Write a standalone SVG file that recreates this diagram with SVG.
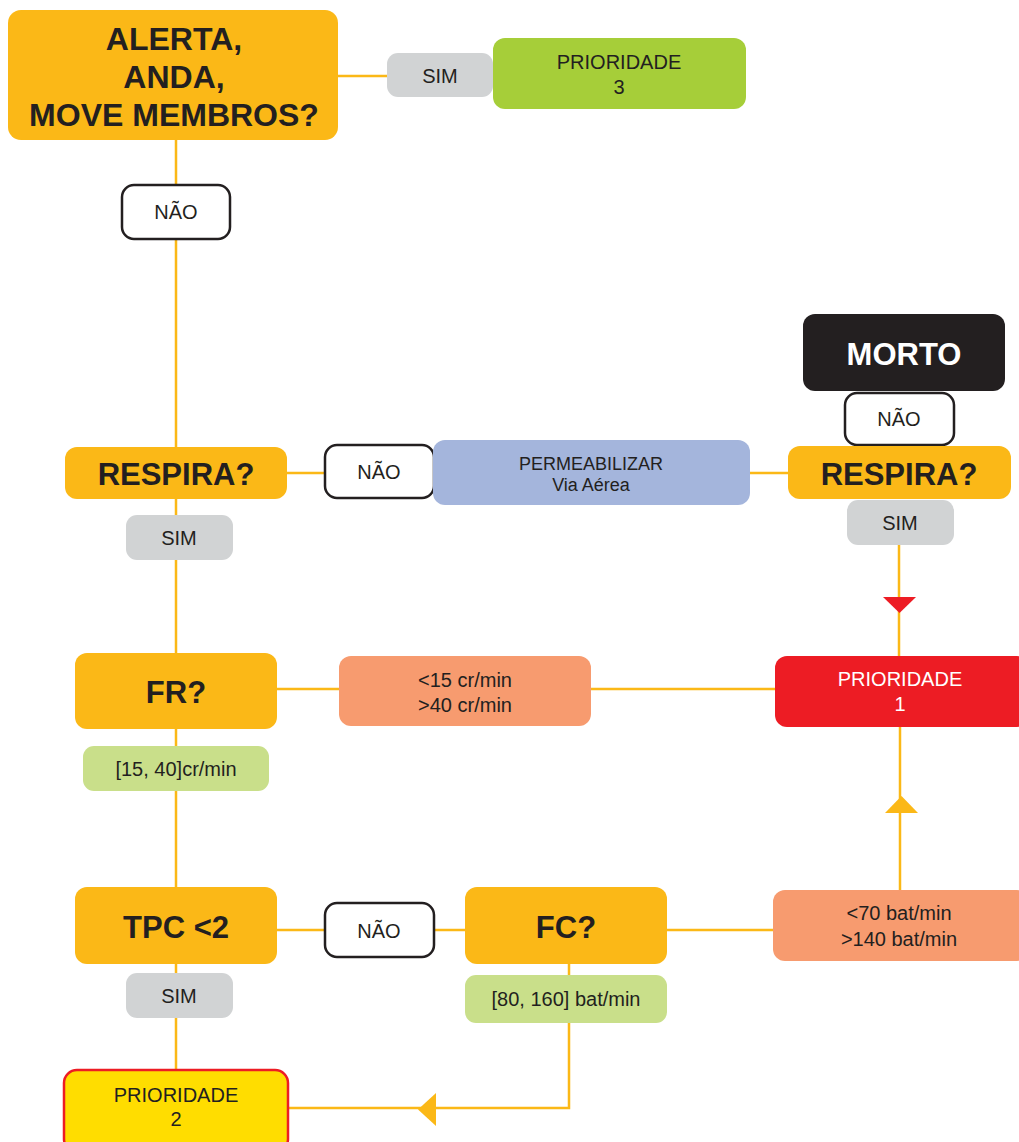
<svg xmlns="http://www.w3.org/2000/svg" width="1019" height="1142" viewBox="0 0 1019 1142">
<style>
.ln{stroke:#FBB817;stroke-width:2.5;fill:none}
.q{fill:#FBB817}
.g{fill:#D1D3D4}
.w{fill:#FFFFFF;stroke:#231F20;stroke-width:2.5}
.sal{fill:#F79B6F}
.lg{fill:#C9DF8A}
.t{font-family:"Liberation Sans",Arial,sans-serif;font-size:20px;fill:#231F20;text-anchor:middle}
.b{font-family:"Liberation Sans",Arial,sans-serif;font-size:31px;font-weight:bold;fill:#231F20;text-anchor:middle}
</style>
<rect width="1019" height="1142" fill="#FFFFFF"/>
<g id="connectors">
<line class="ln" x1="338" y1="76" x2="388" y2="76"/>
<line class="ln" x1="176" y1="140" x2="176" y2="447"/>
<line class="ln" x1="287" y1="473" x2="326" y2="473"/>
<line class="ln" x1="750" y1="473" x2="789" y2="473"/>
<line class="ln" x1="899" y1="545" x2="899" y2="656"/>
<polygon points="883,597 916,597 899.5,613" fill="#ED1C24"/>
<line class="ln" x1="176" y1="499" x2="176" y2="653"/>
<line class="ln" x1="277" y1="689" x2="339" y2="689"/>
<line class="ln" x1="591" y1="689" x2="775" y2="689"/>
<line class="ln" x1="176" y1="729" x2="176" y2="887"/>
<line class="ln" x1="900" y1="727" x2="900" y2="890"/>
<polygon points="885,813 918,813 901.5,796" fill="#FBB817"/>
<line class="ln" x1="277" y1="930" x2="326" y2="930"/>
<line class="ln" x1="434" y1="930" x2="465" y2="930"/>
<line class="ln" x1="667" y1="930" x2="773" y2="930"/>
<line class="ln" x1="569" y1="964" x2="569" y2="975"/>
<line class="ln" x1="176" y1="964" x2="176" y2="1069"/>
<polyline class="ln" points="569,1023 569,1108 289,1108"/>
<polygon points="436,1093 436,1126 418,1109.5" fill="#FBB817"/>
</g>
<g id="alerta">
<rect class="q" x="8" y="10" width="330" height="130" rx="13"/>
<text class="b" x="174" y="50" style="font-size:32px">ALERTA,</text>
<text class="b" x="174" y="88" style="font-size:32px">ANDA,</text>
<text class="b" x="174" y="126" style="font-size:32px">MOVE MEMBROS?</text>
</g>
<g id="sim-top">
<rect class="g" x="387" y="53" width="106" height="44" rx="11"/>
<text class="t" x="440" y="83">SIM</text>
</g>
<g id="prioridade3">
<rect x="493" y="38" width="253" height="71" rx="12" fill="#A6CE39"/>
<text class="t" x="619" y="69">PRIORIDADE</text>
<text class="t" x="619" y="94">3</text>
</g>
<g id="nao-top">
<rect class="w" x="122" y="185" width="108" height="54" rx="12"/>
<text class="t" x="176" y="219">NÃO</text>
</g>
<g id="morto">
<rect x="803" y="314" width="202" height="77" rx="12" fill="#231F20"/>
<text class="b" x="904" y="365" style="fill:#FFFFFF">MORTO</text>
</g>
<g id="nao-morto">
<rect class="w" x="845" y="393" width="109" height="52" rx="12"/>
<text class="t" x="899" y="426">NÃO</text>
</g>
<g id="respira-right">
<rect class="q" x="788" y="446" width="223" height="53" rx="12"/>
<text class="b" x="899" y="485">RESPIRA?</text>
</g>
<g id="sim-right">
<rect class="g" x="847" y="500" width="107" height="45" rx="11"/>
<text class="t" x="900" y="530">SIM</text>
</g>
<g id="respira-left">
<rect class="q" x="65" y="447" width="222" height="52" rx="12"/>
<text class="b" x="176" y="485">RESPIRA?</text>
</g>
<g id="nao-mid">
<rect class="w" x="325" y="445" width="109" height="53" rx="12"/>
<text class="t" x="379" y="479">NÃO</text>
</g>
<g id="permeabilizar">
<rect x="433" y="440" width="317" height="65" rx="12" fill="#A4B5DC"/>
<text class="t" x="591" y="470" style="font-size:18px">PERMEABILIZAR</text>
<text class="t" x="591" y="491" style="font-size:18px">Via Aérea</text>
</g>
<g id="sim-left">
<rect class="g" x="126" y="515" width="107" height="45" rx="11"/>
<text class="t" x="179" y="545">SIM</text>
</g>
<g id="fr">
<rect class="q" x="75" y="653" width="202" height="76" rx="12"/>
<text class="b" x="176" y="703">FR?</text>
</g>
<g id="fr-abnormal">
<rect class="sal" x="339" y="656" width="252" height="70" rx="12"/>
<text class="t" x="465" y="687">&lt;15 cr/min</text>
<text class="t" x="465" y="712">&gt;40 cr/min</text>
</g>
<g id="prioridade1">
<rect x="775" y="656" width="254" height="71" rx="12" fill="#ED1C24"/>
<text class="t" x="900" y="686" style="fill:#FFFFFF">PRIORIDADE</text>
<text class="t" x="900" y="711" style="fill:#FFFFFF">1</text>
</g>
<g id="fr-normal">
<rect class="lg" x="83" y="746" width="186" height="45" rx="11"/>
<text class="t" x="176" y="776">[15, 40]cr/min</text>
</g>
<g id="tpc">
<rect class="q" x="75" y="887" width="202" height="77" rx="12"/>
<text class="b" x="176" y="938">TPC &lt;2</text>
</g>
<g id="nao-bottom">
<rect class="w" x="325" y="903" width="109" height="54" rx="12"/>
<text class="t" x="379" y="938">NÃO</text>
</g>
<g id="fc">
<rect class="q" x="465" y="887" width="202" height="77" rx="12"/>
<text class="b" x="566" y="938">FC?</text>
</g>
<g id="fc-abnormal">
<rect class="sal" x="773" y="890" width="256" height="71" rx="12"/>
<text class="t" x="899" y="920">&lt;70 bat/min</text>
<text class="t" x="899" y="946">&gt;140 bat/min</text>
</g>
<g id="fc-normal">
<rect class="lg" x="465" y="975" width="202" height="48" rx="11"/>
<text class="t" x="566" y="1006">[80, 160] bat/min</text>
</g>
<g id="sim-tpc">
<rect class="g" x="126" y="973" width="107" height="45" rx="11"/>
<text class="t" x="179" y="1003">SIM</text>
</g>
<g id="prioridade2">
<rect x="64" y="1070" width="224" height="82" rx="13" fill="#FFDD00" stroke="#ED1C24" stroke-width="2.5"/>
<text class="t" x="176" y="1102">PRIORIDADE</text>
<text class="t" x="176" y="1126">2</text>
</g>
</svg>
